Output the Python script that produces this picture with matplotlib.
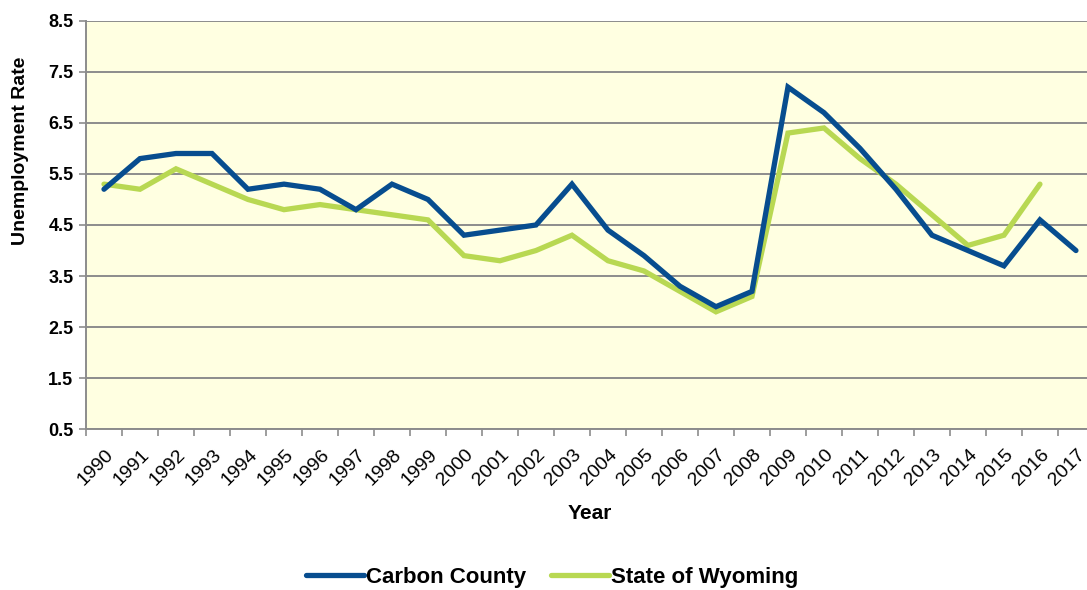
import matplotlib
matplotlib.use("Agg")
import matplotlib.pyplot as plt
from matplotlib.transforms import ScaledTranslation
import numpy as np

years = [str(y) for y in range(1990, 2018)]
carbon_county = [5.2, 5.8, 5.9, 5.9, 5.2, 5.3, 5.2, 4.8, 5.3, 5.0,
                 4.3, 4.4, 4.5, 5.3, 4.4, 3.9, 3.3, 2.9, 3.2, 7.2,
                 6.7, 6.0, 5.2, 4.3, 4.0, 3.7, 4.6, 4.0]
wyoming = [5.3, 5.2, 5.6, 5.3, 5.0, 4.8, 4.9, 4.8, 4.7, 4.6,
           3.9, 3.8, 4.0, 4.3, 3.8, 3.6, 3.2, 2.8, 3.1, 6.3,
           6.4, 5.8, 5.3, 4.7, 4.1, 4.3, 5.3]
yticks = [0.5, 1.5, 2.5, 3.5, 4.5, 5.5, 6.5, 7.5, 8.5]

plt.rcParams['font.family'] = ['Liberation Sans', 'DejaVu Sans']

fig = plt.figure(figsize=(10.87, 5.90), dpi=100)
ax = fig.add_axes([0.0791, 0.2724, 0.9273, 0.6925])
ax.set_facecolor('#FFFFE1')

grey = '#8C8C8C'
x_cc = np.arange(len(carbon_county)) + 0.5
x_wy = np.arange(len(wyoming)) + 0.5
l1, = ax.plot(x_cc, carbon_county, color='#074D8F', lw=3.8,
              solid_capstyle='round', solid_joinstyle='miter', zorder=3, label='Carbon County')
l2, = ax.plot(x_wy, wyoming, color='#B8D852', lw=3.8,
              solid_capstyle='round', solid_joinstyle='miter', zorder=2, label='State of Wyoming')

ax.set_xlim(0, len(years))
ax.set_ylim(0.5, 8.5)
ax.set_yticks(yticks)
ax.set_yticklabels([f"{v:.1f}" for v in yticks], fontsize=13, fontweight='bold')
ax.yaxis.grid(True, color=grey, lw=1.4, zorder=1)
ax.set_axisbelow(True)

ax.set_xticks(np.arange(len(years)) + 0.5)
ax.set_xticklabels(years, rotation=45, ha='right', rotation_mode='anchor', fontsize=14)
ax.set_xticks(np.arange(len(years) + 1), minor=True)
ax.tick_params(axis='x', which='major', length=0, pad=12)
ax.tick_params(axis='x', which='minor', length=5, width=1.2, color=grey)
ax.tick_params(axis='y', length=5, width=1.2, color=grey, pad=4)
shift = ScaledTranslation(1 / 100, 0, fig.dpi_scale_trans)
for lab in ax.get_xticklabels():
    lab.set_transform(lab.get_transform() + shift)

for s in ['top', 'right']:
    ax.spines[s].set_visible(False)
for s in ['left', 'bottom']:
    ax.spines[s].set_color(grey)
    ax.spines[s].set_linewidth(1.4)

ax.set_xlabel('Year', fontsize=15, fontweight='bold')
ax.xaxis.set_label_coords(0.5, -0.183)
ax.set_ylabel('Unemployment Rate', fontsize=14, fontweight='bold')
ax.yaxis.set_label_coords(-0.0565, 0.681)

fig.legend(handles=[l1, l2], loc='center', bbox_to_anchor=(0.508, 0.021), ncol=2,
           frameon=False, prop={'size': 16, 'weight': 'bold'},
           handlelength=2.6, handletextpad=0.12, columnspacing=1.1)

fig.savefig('out.png', dpi=100)
